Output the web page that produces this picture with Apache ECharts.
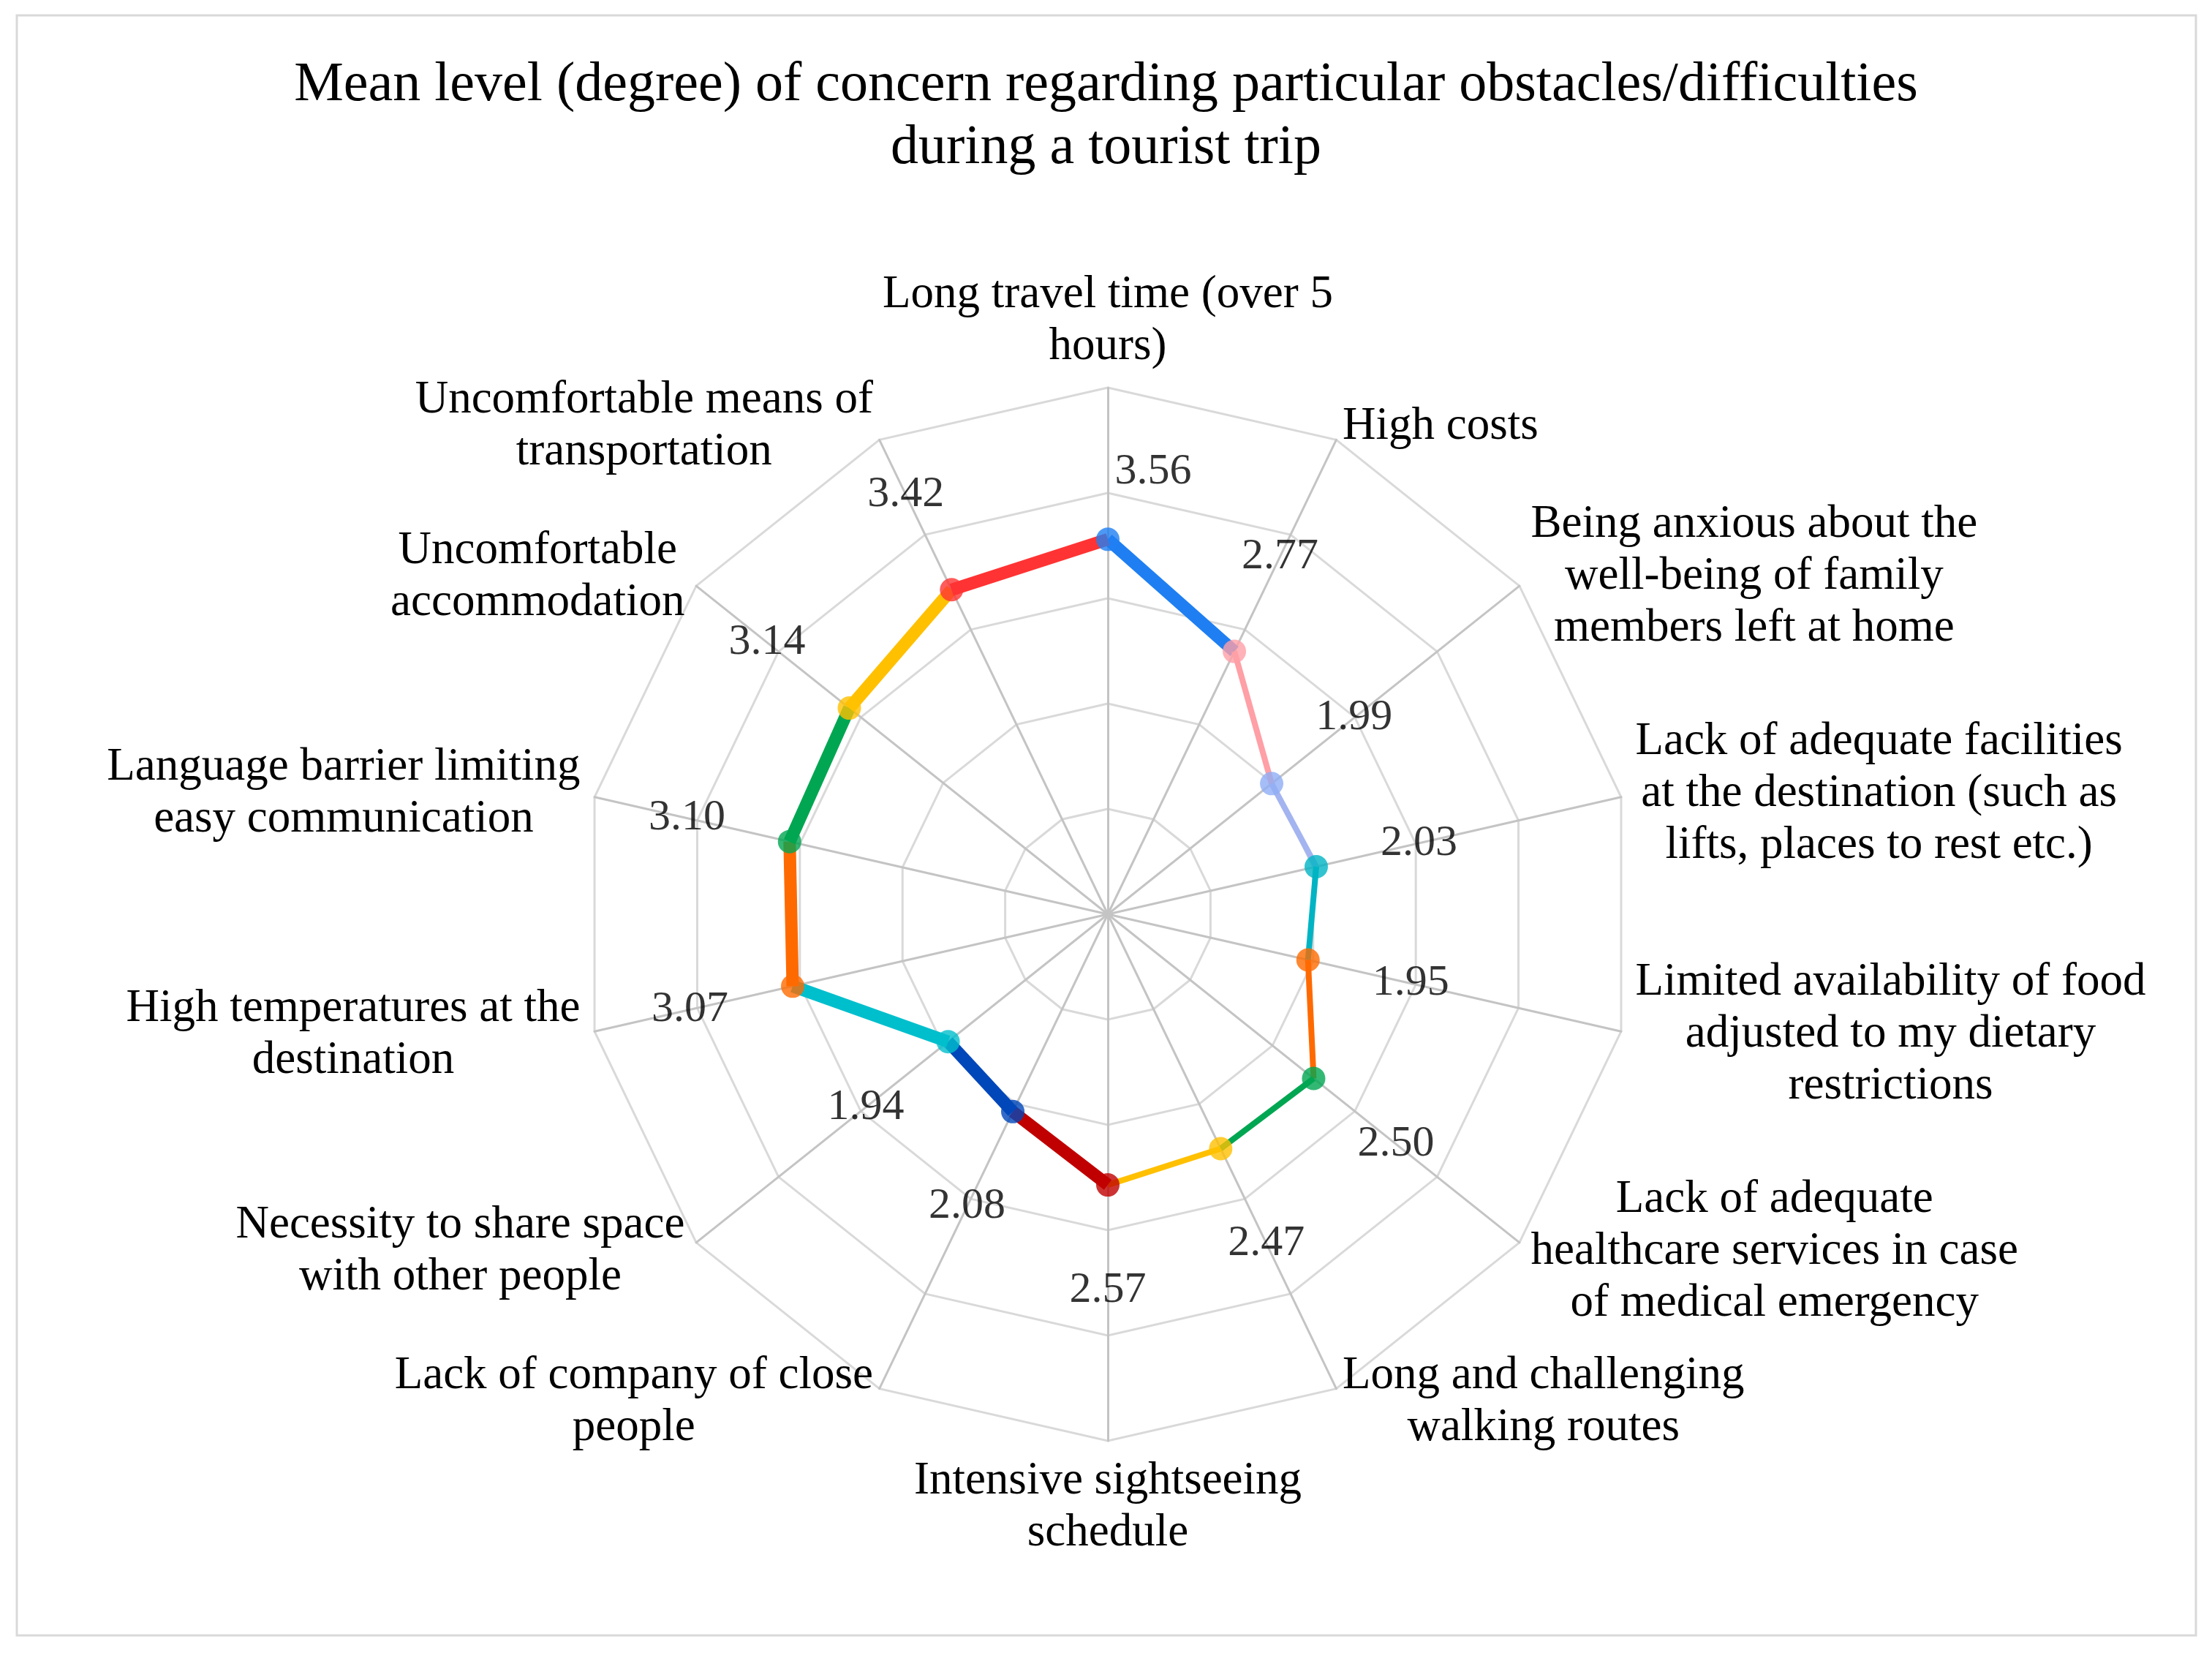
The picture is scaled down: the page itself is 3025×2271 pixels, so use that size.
<!DOCTYPE html>
<html>
<head>
<meta charset="utf-8">
<script src="https://cdn.jsdelivr.net/npm/echarts@6/dist/echarts.min.js"></script>
<style>
html,body{margin:0;padding:0;background:#fff;}
#chart{width:3025px;height:2271px;}
</style>
</head>
<body>
<div id="chart"></div>
<script>
// ---- data ----
const titleText = 'Mean level (degree) of concern regarding particular obstacles/difficulties\nduring a tourist trip';
const categories = [
  'Long travel time (over 5\nhours)',
  'High costs',
  'Being anxious about the\nwell-being of family\nmembers left at home',
  'Lack of adequate facilities\nat the destination (such as\nlifts, places to rest etc.)',
  'Limited availability of food\nadjusted to my dietary\nrestrictions',
  'Lack of adequate\nhealthcare services in case\nof medical emergency',
  'Long and challenging\nwalking routes',
  'Intensive sightseeing\nschedule',
  'Lack of company of close\npeople',
  'Necessity to share space\nwith other people',
  'High temperatures at the\ndestination',
  'Language barrier limiting\neasy communication',
  'Uncomfortable\naccommodation',
  'Uncomfortable means of\ntransportation'
];
const values = [3.56, 2.77, 1.99, 2.03, 1.95, 2.50, 2.47, 2.57, 2.08, 1.94, 3.07, 3.10, 3.14, 3.42];
const scaleMax = 5;
const scaleSplits = 5;

// ---- styles (segment i goes from point i to point i+1) ----
const segmentColors = ['#1f7ff2', '#ff9fa6', '#a3b4f0', '#00b4c4', '#ff6a00', '#00a651', '#ffc000',
                       '#c00000', '#0047ba', '#00bfcc', '#ff6a00', '#00a651', '#ffc000', '#ff3333'];
const segmentWidths = [17, 8, 8, 8, 8, 8, 8, 17, 17, 17, 17, 17, 17, 17];
const markerColors = ['#1f7ff2', '#ff9fa6', '#90aef5', '#00b4c4', '#ff6a00', '#00a651', '#ffc000',
                      '#c00000', '#0047ba', '#00bfcc', '#ff6a00', '#00a651', '#ffc000', '#ff3333'];

const FONT = "'Liberation Serif', 'Times New Roman', serif";
const CENTER = [1515, 1250];
const RADIUS = 720;

const chart = echarts.init(document.getElementById('chart'), null, {renderer: 'canvas'});

// radar goes counter-clockwise; reorder indicators so the picture runs clockwise
const indicatorOrder = [0].concat(categories.map((c, i) => i).slice(1).reverse());
const indicators = indicatorOrder.map(i => ({name: categories[i], min: 0, max: scaleMax}));

const n = categories.length;
// angle axis is a value axis over category positions 0..n (n coincides with 0)
const segSeries = values.map((v, i) => {
  const j = (i + 1) % n;
  return {
    type: 'line',
    coordinateSystem: 'polar',
    polarIndex: 0,
    clip: false,
    data: [[v, i], [values[j], i + 1]],
    showSymbol: false,
    symbol: 'none',
    lineStyle: {color: segmentColors[i], width: segmentWidths[i], cap: 'butt'},
    silent: true,
    z: 3
  };
});

const markerSeries = {
  type: 'scatter',
  coordinateSystem: 'polar',
  polarIndex: 0,
  clip: false,
  symbol: 'circle',
  symbolSize: 32,
  data: values.map((v, i) => ({value: [v, i], itemStyle: {color: markerColors[i]}})),
  silent: true,
  z: 4
};

const labelSeries = {
  type: 'scatter',
  coordinateSystem: 'polar',
  polarIndex: 0,
  clip: false,
  symbolSize: 1,
  itemStyle: {color: 'transparent'},
  data: values.map((v, i) => ({
    value: [v + 1, i],
    label: i === 0 ? {offset: [62, 52]} : undefined
  })),
  label: {
    show: true,
    position: 'inside',
    formatter: p => values[p.dataIndex].toFixed(2),
    fontSize: 60,
    fontFamily: FONT,
    color: '#000'
  },
  silent: true,
  z: 5
};

const option = {
  backgroundColor: '#ffffff',
  animation: false,
  title: {
    text: titleText,
    left: 'center',
    top: 74,
    padding: 0,
    textStyle: {fontSize: 76, lineHeight: 86, fontWeight: 'normal', fontFamily: FONT, color: '#000'}
  },
  graphic: [{
    type: 'rect',
    shape: {x: 23, y: 21, width: 2980, height: 2215},
    style: {fill: 'none', stroke: '#d9d9d9', lineWidth: 3},
    silent: true,
    z: -10
  }],
  radar: {
    center: CENTER,
    radius: RADIUS,
    startAngle: 90,
    shape: 'polygon',
    splitNumber: scaleSplits,
    indicator: indicators,
    nameGap: 20,
    axisName: {
      color: '#000',
      fontSize: 63,
      lineHeight: 71,
      fontFamily: FONT,
      formatter: name => name.split('\n').map(s => '{c|' + s + '}').join('\n'),
      rich: {c: {align: 'center', fontSize: 63, lineHeight: 71, fontFamily: FONT, color: '#000'}}
    },
    axisLine: {lineStyle: {color: '#c4c4c4', width: 3}},
    splitLine: {lineStyle: {color: '#d9d9d9', width: 3}},
    splitArea: {show: false},
    axisTick: {show: false},
    axisLabel: {show: false}
  },
  polar: {center: CENTER, radius: RADIUS},
  angleAxis: {
    type: 'value',
    min: 0,
    max: n,
    startAngle: 90,
    clockwise: true,
    axisLine: {show: false},
    axisTick: {show: false},
    axisLabel: {show: false},
    splitLine: {show: false},
    splitArea: {show: false}
  },
  radiusAxis: {
    type: 'value',
    min: 0,
    max: scaleMax,
    axisLine: {show: false},
    axisTick: {show: false},
    axisLabel: {show: false},
    splitLine: {show: false},
    splitArea: {show: false}
  },
  series: segSeries.concat([markerSeries, labelSeries])
};

chart.setOption(option);
</script>
</body>
</html>
